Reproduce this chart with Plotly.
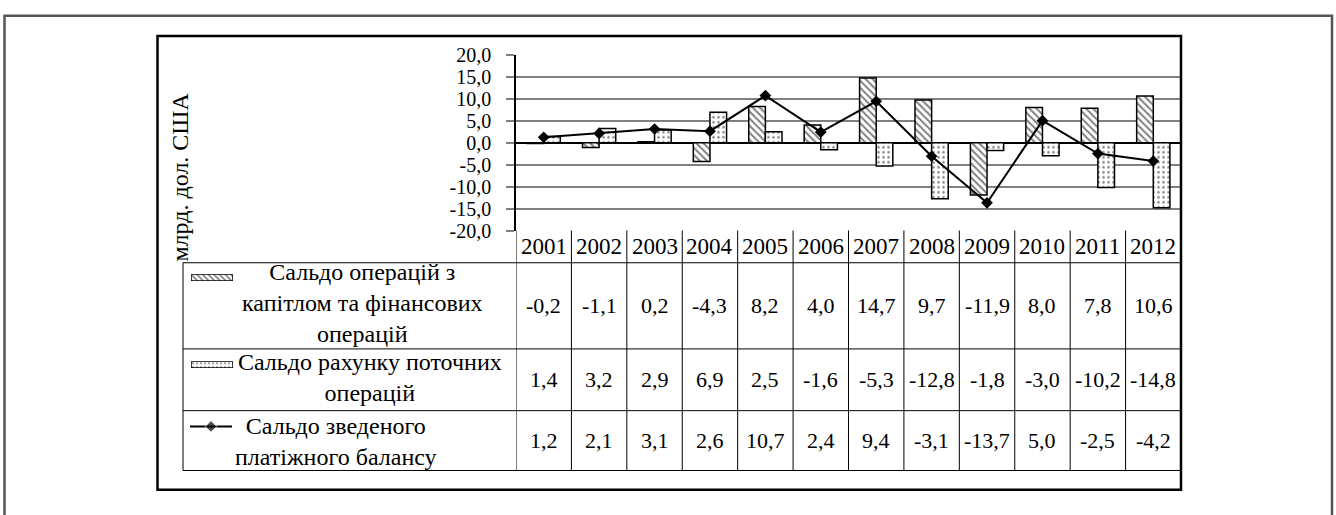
import plotly.graph_objects as go

# ---------------- data ----------------
years = [2001, 2002, 2003, 2004, 2005, 2006, 2007, 2008, 2009, 2010, 2011, 2012]
capital_fin = [-0.2, -1.1, 0.2, -4.3, 8.2, 4.0, 14.7, 9.7, -11.9, 8.0, 7.8, 10.6]
current_acc = [1.4, 3.2, 2.9, 6.9, 2.5, -1.6, -5.3, -12.8, -1.8, -3.0, -10.2, -14.8]
overall_bal = [1.2, 2.1, 3.1, 2.6, 10.7, 2.4, 9.4, -3.1, -13.7, 5.0, -2.5, -4.2]
series_names = [
    "Сальдо операцій з<br>капітлом та фінансових<br>операцій",
    "Сальдо рахунку поточних<br>операцій",
    "Сальдо зведеного<br>платіжного балансу",
]
y_ticks = [20, 15, 10, 5, 0, -5, -10, -15, -20]
y_title = "млрд. дол. США"

W, H = 1336, 515
FONT = "Liberation Serif"


def px(x):
    return x / W


def py(y):
    return 1 - y / H


def fmt(v):
    return f"{v:.1f}".replace(".", ",")


# plot area (pixels)
PL, PR, PT, PB = 516, 1181, 45.7, 229.3

fig = go.Figure()

fig.add_trace(go.Bar(
    x=years, y=capital_fin, name="capital",
    marker=dict(color="white", line=dict(color="black", width=1.5),
                pattern=dict(shape="\\", fgcolor="black", bgcolor="white", size=5, solidity=0.4)),
))
fig.add_trace(go.Bar(
    x=years, y=current_acc, name="current",
    marker=dict(color="white", line=dict(color="black", width=1.5),
                pattern=dict(shape=".", fgcolor="black", bgcolor="white", size=5, solidity=0.2)),
))
fig.add_trace(go.Scatter(
    x=years, y=overall_bal, mode="lines+markers", name="overall",
    line=dict(color="black", width=2),
    marker=dict(symbol="diamond", size=9, color="black"),
))

# legend keys in the data table (own small axes)
key_boxes = [(191, 233, 275, 282), (191, 233, 366, 373)]
fig.add_trace(go.Bar(
    x=[0.5], y=[1], width=[1], xaxis="x2", yaxis="y2",
    marker=dict(color="white", line=dict(color="black", width=1.5),
                pattern=dict(shape="\\", fgcolor="black", bgcolor="white", size=4, solidity=0.4)),
))
fig.add_trace(go.Bar(
    x=[0.5], y=[1], width=[1], xaxis="x3", yaxis="y3",
    marker=dict(color="white", line=dict(color="black", width=1.5),
                pattern=dict(shape=".", fgcolor="black", bgcolor="white", size=4, solidity=0.2)),
))
fig.add_trace(go.Scatter(
    x=[0, 0.5, 1], y=[0.5, 0.5, 0.5], xaxis="x4", yaxis="y4", mode="lines+markers",
    line=dict(color="black", width=2),
    marker=dict(symbol="diamond", size=[0, 9, 0], color="black"),
))

hidden = dict(visible=False, range=[0, 1], fixedrange=True)
layout = dict(
    width=W, height=H, autosize=False,
    margin=dict(l=0, r=0, t=0, b=0),
    paper_bgcolor="white", plot_bgcolor="white",
    showlegend=False, barmode="group", bargap=0.4, bargroupgap=0,
    font=dict(family=FONT, color="black", size=22),
    xaxis=dict(domain=[px(PL), px(PR)], range=[2000.5, 2012.5], showticklabels=False,
               showgrid=False, zeroline=False, showline=False, ticks=""),
    yaxis=dict(domain=[py(PB), py(PT)], range=[-20, 20], tickvals=y_ticks,
               ticktext=[fmt(v) for v in y_ticks], ticks="outside", ticklen=8,
               tickcolor="#808080", tickwidth=1.5, showgrid=True, gridcolor="#808080",
               gridwidth=1.5, zeroline=True, zerolinecolor="black", zerolinewidth=1.5,
               showline=True, linecolor="black", linewidth=1.5,
               tickfont=dict(size=20, family=FONT), ticklabelstandoff=11),
    xaxis2=dict(domain=[px(key_boxes[0][0]), px(key_boxes[0][1])], anchor="y2", **hidden),
    yaxis2=dict(domain=[py(key_boxes[0][3]), py(key_boxes[0][2])], anchor="x2", **hidden),
    xaxis3=dict(domain=[px(key_boxes[1][0]), px(key_boxes[1][1])], anchor="y3", **hidden),
    yaxis3=dict(domain=[py(key_boxes[1][3]), py(key_boxes[1][2])], anchor="x3", **hidden),
    xaxis4=dict(domain=[px(190), px(232)], anchor="y4", **hidden),
    yaxis4=dict(domain=[py(444), py(424)], anchor="x4", **hidden),
)
fig.update_layout(**layout)

shapes = []
# outer frame
shapes.append(dict(type="rect", xref="paper", yref="paper", x0=px(4.5), x1=px(1332), y0=py(530), y1=py(5),
                   line=dict(color="#555555", width=2.5)))
# inner chart frame
shapes.append(dict(type="rect", xref="paper", yref="paper", x0=px(157.5), x1=px(1181), y0=py(500), y1=py(26),
                   line=dict(color="black", width=2.5)))
# table horizontal lines
TL, TR = 183, 1181
ROW_LINES = [263, 353, 417.5, 480]
for yy in ROW_LINES:
    shapes.append(dict(type="line", xref="paper", yref="paper", x0=px(TL), x1=px(TR), y0=py(yy), y1=py(yy),
                       line=dict(color="black", width=1)))
# table left border
shapes.append(dict(type="line", xref="paper", yref="paper", x0=px(TL), x1=px(TL), y0=py(263), y1=py(480),
                   line=dict(color="black", width=1)))
# column separators (from category axis)
for b in [y - 0.5 for y in years] + [years[-1] + 0.5]:
    shapes.append(dict(type="line", xref="x", yref="paper", x0=b, x1=b, y0=py(PB), y1=py(480),
                       line=dict(color="black", width=1)))

annotations = []
# y-axis title
annotations.append(dict(text=y_title, xref="paper", yref="paper", x=px(180), y=py(174), showarrow=False,
                        textangle=-90, font=dict(size=24, family=FONT), xanchor="center", yanchor="middle"))
# category labels
for yv in years:
    annotations.append(dict(text=str(yv), xref="x", yref="paper", x=yv, y=py(246.5), showarrow=False,
                            font=dict(size=23, family=FONT), xanchor="center", yanchor="middle"))
# table values
row_centers = [308, 385, 449]
for vals, yc in zip([capital_fin, current_acc, overall_bal], row_centers):
    for yv, v in zip(years, vals):
        annotations.append(dict(text=fmt(v), xref="x", yref="paper", x=yv, y=py(yc), showarrow=False,
                                font=dict(size=22, family=FONT), xanchor="center", yanchor="middle"))
# series names
name_pos = [(362, 305), (370, 383), (336, 450)]
for nm, (xc, yc) in zip(series_names, name_pos):
    annotations.append(dict(text=nm, xref="paper", yref="paper", x=px(xc), y=py(yc), showarrow=False,
                            font=dict(size=24, family=FONT), xanchor="center", yanchor="middle",
                            align="center"))

fig.update_layout(shapes=shapes, annotations=annotations)
fig.write_html("out.html", config={"displayModeBar": False},
               post_script="document.body.style.margin='0';document.body.style.overflow='hidden';")
